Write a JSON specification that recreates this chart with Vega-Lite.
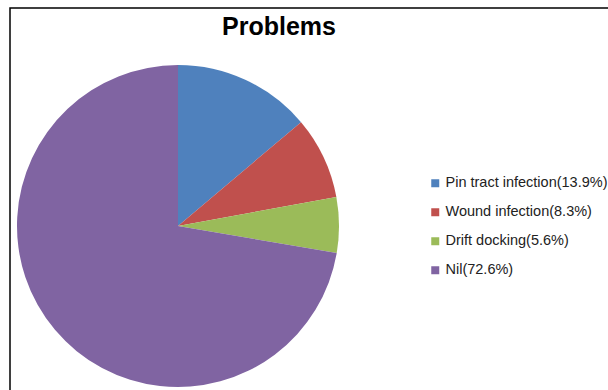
{
  "$schema": "https://vega.github.io/schema/vega-lite/v6.json",
  "autosize": "none",
  "width": 600,
  "height": 390,
  "padding": {"left": 10, "top": 8, "right": 0, "bottom": 0},
  "background": "white",
  "view": {"stroke": "black", "strokeWidth": 1.5},
  "title": {
    "text": "Problems",
    "anchor": "start",
    "dx": 212,
    "dy": 36,
    "font": "Liberation Sans",
    "fontSize": 25,
    "fontWeight": "bold",
    "color": "black"
  },
  "data": {
    "values": [
      {"label": "Pin tract infection(13.9%)", "value": 13.9, "ord": 1},
      {"label": "Wound infection(8.3%)", "value": 8.3, "ord": 2},
      {"label": "Drift docking(5.6%)", "value": 5.6, "ord": 3},
      {"label": "Nil(72.6%)", "value": 72.6, "ord": 4}
    ]
  },
  "mark": {"type": "arc", "x": 168, "y": 218, "outerRadius": 161},
  "encoding": {
    "theta": {"field": "value", "type": "quantitative", "stack": true},
    "order": {"field": "ord", "type": "quantitative"},
    "color": {
      "field": "label",
      "type": "nominal",
      "scale": {
        "domain": ["Pin tract infection(13.9%)", "Wound infection(8.3%)", "Drift docking(5.6%)", "Nil(72.6%)"],
        "range": ["#4F81BD", "#C0504D", "#9BBB59", "#8064A2"]
      },
      "legend": {
        "title": null,
        "orient": "none",
        "legendX": 418,
        "legendY": 168,
        "symbolType": "square",
        "symbolSize": 64,
        "symbolStrokeWidth": 0,
        "labelFont": "Liberation Sans",
        "labelFontSize": 14.5,
        "labelColor": "#222",
        "labelLimit": 400,
        "labelOffset": 3,
        "rowPadding": 14
      }
    }
  }
}
